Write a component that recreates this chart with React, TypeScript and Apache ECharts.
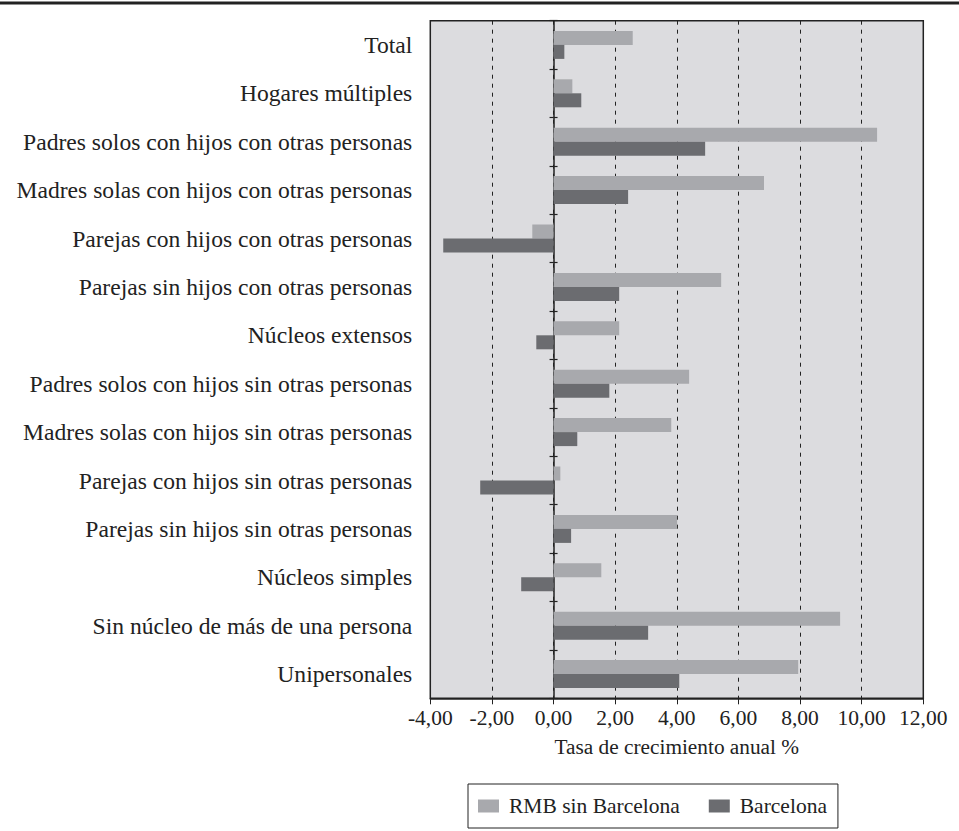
import React, { useEffect, useRef } from "react";
import * as echarts from "echarts";

const categories = [
  "Total",
  "Hogares múltiples",
  "Padres solos con hijos con otras personas",
  "Madres solas con hijos con otras personas",
  "Parejas con hijos con otras personas",
  "Parejas sin hijos con otras personas",
  "Núcleos extensos",
  "Padres solos con hijos sin otras personas",
  "Madres solas con hijos sin otras personas",
  "Parejas con hijos sin otras personas",
  "Parejas sin hijos sin otras personas",
  "Núcleos simples",
  "Sin núcleo de más de una persona",
  "Unipersonales",
];

const rmbSinBarcelona = [2.57, 0.61, 10.5, 6.83, -0.69, 5.44, 2.13, 4.4, 3.82, 0.22, 4.01, 1.55, 9.3, 7.94];
const barcelona = [0.35, 0.9, 4.92, 2.42, -3.58, 2.13, -0.56, 1.81, 0.77, -2.38, 0.57, -1.05, 3.07, 4.08];

const seriesNames = ["RMB sin Barcelona", "Barcelona"];
const xTicks = { min: -4, max: 12, interval: 2 };
const xAxisTitle = "Tasa de crecimiento anual %";

const FONT = "Liberation Serif, Times New Roman, serif";
const TEXT = "#222222";

export default function App() {
  const ref = useRef<HTMLDivElement>(null);
  useEffect(() => {
    if (!ref.current) return;
    const chart = echarts.init(ref.current, undefined, { renderer: "svg" });
    const yBase = {
      type: "category",
      data: categories,
      inverse: true,
      gridIndex: 0,
    };
    chart.setOption({
      animation: false,
      backgroundColor: "#ffffff",
      textStyle: { fontFamily: FONT, color: TEXT },
      grid: {
        left: 430.3,
        right: 35.7,
        top: 20.7,
        bottom: 132.7,
        show: true,
        backgroundColor: "#dcdcdf",
        borderColor: "#222222",
        borderWidth: 1.5,
      },
      graphic: [
        {
          type: "rect",
          shape: { x: 0, y: 1.5, width: 959, height: 3 },
          style: { fill: "#222222" },
          silent: true,
        },
      ],
      legend: {
        left: 468,
        top: 784,
        orient: "horizontal",
        data: seriesNames,
        itemWidth: 21,
        itemHeight: 13,
        itemGap: 29,
        padding: [11, 11, 11, 10],
        borderColor: "#222222",
        borderWidth: 1,
        icon: "rect",
        textStyle: { fontFamily: FONT, fontSize: 21.5, color: TEXT, padding: [0, 0, 0, 5] },
      },
      xAxis: {
        type: "value",
        min: xTicks.min,
        max: xTicks.max,
        interval: xTicks.interval,
        name: xAxisTitle,
        nameLocation: "middle",
        nameGap: 38,
        nameTextStyle: { fontFamily: FONT, fontSize: 21.3, color: TEXT },
        axisLine: { show: true, onZero: false, lineStyle: { color: "#222222", width: 1.5 } },
        axisTick: { show: true, length: 6, lineStyle: { color: "#222222", width: 1 } },
        axisLabel: {
          fontFamily: FONT,
          fontSize: 21.5,
          color: TEXT,
          margin: 9,
          formatter: (v: number) => v.toFixed(2).replace(".", ","),
        },
        splitLine: {
          show: true,
          lineStyle: { color: "#222222", type: [4, 5], width: 1 },
        },
      },
      yAxis: [
        {
          ...yBase,
          position: "left",
          axisLine: { show: false, onZero: false },
          axisTick: { show: false },
          axisLabel: { fontFamily: FONT, fontSize: 23.6, color: TEXT, margin: 18 },
          splitLine: { show: false },
        },
        {
          ...yBase,
          position: "left",
          axisLine: { show: true, onZero: true, onZeroAxisIndex: 0, lineStyle: { color: "#222222", width: 1.5 } },
          axisTick: { show: true, length: 4, inside: false, lineStyle: { color: "#222222", width: 1.2 } },
          axisLabel: { show: false },
          splitLine: { show: false },
        },
        {
          ...yBase,
          position: "left",
          axisLine: { show: false, onZero: true, onZeroAxisIndex: 0 },
          axisTick: { show: true, length: 4, inside: true, lineStyle: { color: "#222222", width: 1.2 } },
          axisLabel: { show: false },
          splitLine: { show: false },
        },
      ],
      series: [
        {
          name: seriesNames[0],
          type: "bar",
          yAxisIndex: 0,
          data: rmbSinBarcelona,
          barWidth: 14,
          barGap: "0%",
          itemStyle: { color: "#a8a9ad" },
        },
        {
          name: seriesNames[1],
          type: "bar",
          yAxisIndex: 0,
          data: barcelona,
          barWidth: 14,
          barGap: "0%",
          itemStyle: { color: "#6b6c70" },
        },
      ],
    });
    return () => chart.dispose();
  }, []);
  return (
    <div
      ref={ref}
      style={{ position: "absolute", left: 0, top: 0, width: 959, height: 831 }}
    />
  );
}
